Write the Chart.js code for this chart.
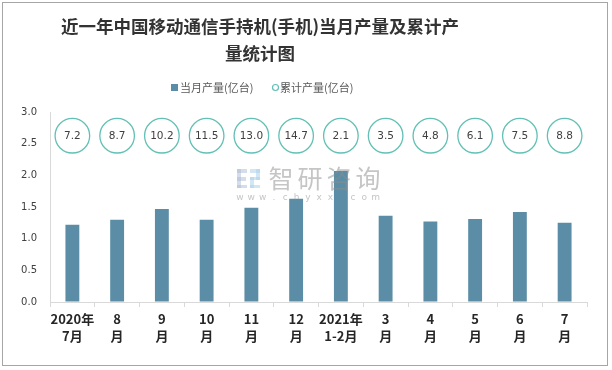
<!DOCTYPE html>
<html><head><meta charset="utf-8">
<script src="https://cdn.jsdelivr.net/npm/chart.js@4"></script>
<style>html,body{margin:0;padding:0;background:#fff}#wrap{width:612px;height:370px;position:relative}</style>
</head><body><div id="wrap"><canvas id="c" width="612" height="370"></canvas></div>
<script>
const titleLines = ['近一年中国移动通信手持机(手机)当月产量及累计产', '量统计图'];
const categories = [['2020年','7月'],['8','月'],['9','月'],['10','月'],['11','月'],['12','月'],['2021年','1-2月'],['3','月'],['4','月'],['5','月'],['6','月'],['7','月']];
const monthlyOutput = [1.22, 1.30, 1.47, 1.30, 1.49, 1.63, 2.07, 1.36, 1.27, 1.31, 1.42, 1.25];
const cumulativeOutput = [7.2, 8.7, 10.2, 11.5, 13.0, 14.7, 2.1, 3.5, 4.8, 6.1, 7.5, 8.8];
const seriesNames = ['当月产量(亿台)', '累计产量(亿台)'];
const yMin = 0, yMax = 3, yStep = 0.5;
const circleLevel = 2.626;

const BAR = '#5b8ea6', RING = '#62c0b4';
const CJK = '"Noto Sans CJK SC", "Noto Sans", sans-serif';
const NUM = '"DejaVu Sans", sans-serif';

const decor = {
  id: 'decor',
  beforeDraw(chart) {
    const ctx = chart.ctx;
    ctx.save();
    ctx.fillStyle = '#fff';
    ctx.fillRect(0, 0, chart.width, chart.height);
    ctx.strokeStyle = '#a6a6a6';
    ctx.lineWidth = 1;
    ctx.strokeRect(2.5, 2.5, 605, 363);
    ctx.restore();
  },
  afterDatasetsDraw(chart) {
    const ctx = chart.ctx;
    ctx.save();
    // watermark (semi-transparent, over the bars)
    ctx.globalAlpha = 0.5;
    ctx.fillStyle = '#a9bcd4';
    ctx.fillRect(237, 169, 10, 4); ctx.fillRect(237, 169, 4, 19); ctx.fillRect(237, 177, 9, 4); ctx.fillRect(237, 185, 10, 3);
    ctx.fillStyle = '#a8cdea';
    ctx.fillRect(250, 169, 10, 4); ctx.fillRect(256, 169, 4, 11); ctx.fillRect(250, 177, 10, 3); ctx.fillRect(250, 177, 4, 11); ctx.fillRect(250, 185, 10, 3);
    ctx.fillStyle = '#8c8c8c';
    ctx.font = '25px ' + CJK;
    ctx.textBaseline = 'middle';
    ctx.textAlign = 'center';
    const wm = '智研咨询';
    for (let i = 0; i < wm.length; i++) ctx.fillText(wm[i], 281 + i * 29, 178);
    ctx.font = '9px ' + NUM;
    const w = 'www.chyxx.com';
    for (let i = 0; i < w.length; i++) ctx.fillText(w[i], 240 + i * 11.3, 198);
    ctx.restore();
  },
  afterDraw(chart) {
    const ctx = chart.ctx;
    ctx.save();
    // title
    ctx.fillStyle = '#333';
    ctx.font = 'bold 17.5px ' + CJK;
    ctx.textAlign = 'center';
    ctx.textBaseline = 'middle';
    ctx.fillText(titleLines[0], 260, 26);
    ctx.fillText(titleLines[1], 260, 53);
    // legend
    ctx.font = '11px ' + CJK;
    ctx.textAlign = 'left';
    ctx.fillStyle = BAR;
    ctx.fillRect(171, 84, 7, 7);
    ctx.fillStyle = '#595959';
    ctx.fillText(seriesNames[0], 180, 87.5);
    ctx.beginPath();
    ctx.arc(275.5, 87.5, 3, 0, Math.PI * 2);
    ctx.strokeStyle = RING; ctx.lineWidth = 1.2; ctx.stroke();
    ctx.fillText(seriesNames[1], 280, 87.5);
    // circle labels
    const meta = chart.getDatasetMeta(1);
    ctx.font = '10.5px ' + NUM;
    ctx.textAlign = 'center';
    ctx.fillStyle = '#404040';
    meta.data.forEach((pt, i) => {
      ctx.fillText(cumulativeOutput[i].toFixed(1), pt.x, pt.y + 0.5);
    });
    ctx.restore();
  }
};

new Chart(document.getElementById('c'), {
  data: {
    labels: categories,
    datasets: [
      { type: 'bar', label: seriesNames[0], data: monthlyOutput, backgroundColor: BAR,
        categoryPercentage: 1, barPercentage: 0.31, order: 2 },
      { type: 'line', label: seriesNames[1], data: cumulativeOutput.map(() => circleLevel),
        showLine: false, pointRadius: 17.3, pointHoverRadius: 17.3, pointBorderWidth: 1.3,
        pointBorderColor: RING, pointBackgroundColor: '#fff', order: 1 }
    ]
  },
  options: {
    responsive: false,
    animation: false,
    events: [],
    layout: { padding: { top: 112, left: 0, right: 25, bottom: 0 } },
    plugins: { legend: { display: false }, title: { display: false }, tooltip: { enabled: false } },
    scales: {
      x: {
        offset: true,
        afterFit(s) { s.height = 68; },
        grid: { display: true, offset: true, drawOnChartArea: false, drawTicks: true, tickLength: 5, color: '#d9d9d9' },
        border: { display: true, color: '#d9d9d9' },
        ticks: { maxRotation: 0, minRotation: 0, autoSkip: false, padding: 4, color: '#262626',
          font: { family: CJK, size: 13, weight: 'bold', lineHeight: 1.3 } }
      },
      y: {
        min: yMin, max: yMax,
        afterFit(s) { s.width = 50; },
        grid: { display: true, drawOnChartArea: false, drawTicks: false, color: 'rgba(0,0,0,0)' },
        border: { display: true, color: '#d9d9d9' },
        ticks: { stepSize: yStep, padding: 13, color: '#404040', font: { family: NUM, size: 10 },
          callback: v => Number(v).toFixed(1) }
      }
    }
  },
  plugins: [decor]
});
</script>
</body></html>
